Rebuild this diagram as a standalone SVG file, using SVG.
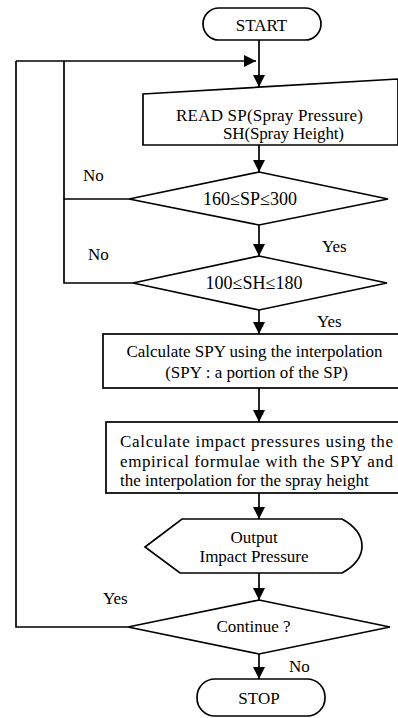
<svg xmlns="http://www.w3.org/2000/svg" width="398" height="718" viewBox="0 0 398 718">
  <style>
    .shape { fill: #ffffff; stroke: #000000; stroke-width: 1.7; }
    .line { fill: none; stroke: #000000; stroke-width: 1.7; }
    text { font-family: "Liberation Serif", "Times New Roman", serif; font-size: 17px; fill: #000000; }
    .c { text-anchor: middle; }
    .cond { font-size: 18px; }
  </style>
  <defs>
    <marker id="arrow" viewBox="0 0 12 12" markerWidth="12" markerHeight="13" refX="12" refY="6" orient="auto" markerUnits="userSpaceOnUse">
      <path d="M0,0 L12,6 L0,12 Z" fill="#000000"/>
    </marker>
  </defs>
  <rect width="398" height="718" fill="#ffffff"/>

  <!-- connectors -->
  <g id="connectors">
    <path class="line" d="M259,40 L259,87" marker-end="url(#arrow)"/>
    <path class="line" d="M16,61 L256,61" marker-end="url(#arrow)"/>
    <path class="line" d="M259,145 L259,172" marker-end="url(#arrow)"/>
    <path class="line" d="M129,199 L64,199 L64,61"/>
    <path class="line" d="M259,225 L259,256" marker-end="url(#arrow)"/>
    <path class="line" d="M133,283 L64,283 L64,199"/>
    <path class="line" d="M259,310 L259,334" marker-end="url(#arrow)"/>
    <path class="line" d="M259,388 L259,422" marker-end="url(#arrow)"/>
    <path class="line" d="M259,493 L259,519" marker-end="url(#arrow)"/>
    <path class="line" d="M259,573 L259,600" marker-end="url(#arrow)"/>
    <path class="line" d="M128,627 L16,627 L16,61"/>
    <path class="line" d="M259,654 L259,679" marker-end="url(#arrow)"/>
    <text x="83" y="181">No</text>
    <text x="88" y="260">No</text>
    <text x="322" y="252">Yes</text>
    <text x="317" y="327">Yes</text>
    <text x="103" y="604">Yes</text>
    <text x="289" y="672">No</text>
  </g>

  <g id="start">
    <rect class="shape" x="203" y="8" width="118" height="32" rx="16" ry="16"/>
    <text class="c" x="261.5" y="31">START</text>
  </g>

  <g id="read-input">
    <path class="shape" d="M143,94 L398,79 L398,145 L143,145 Z"/>
    <text x="176" y="121" textLength="187">READ SP(Spray Pressure)</text>
    <text x="223" y="139" textLength="121">SH(Spray Height)</text>
  </g>

  <g id="check-sp">
    <path class="shape" d="M259,172 L388,199 L259,225 L129,199 Z"/>
    <text class="c cond" x="250" y="205">160≤SP≤300</text>
  </g>

  <g id="check-sh">
    <path class="shape" d="M259,256 L387,283 L259,310 L133,283 Z"/>
    <text class="c cond" x="254" y="289">100≤SH≤180</text>
  </g>

  <g id="calc-spy">
    <rect class="shape" x="103" y="334" width="300" height="54"/>
    <text class="c" x="254.5" y="357">Calculate SPY using the interpolation</text>
    <text class="c" x="256.5" y="378">(SPY : a portion of the SP)</text>
  </g>

  <g id="calc-impact">
    <rect class="shape" x="106" y="422" width="300" height="71"/>
    <text x="120" y="447" textLength="273" lengthAdjust="spacing">Calculate impact pressures using the</text>
    <text x="120" y="467" textLength="273" lengthAdjust="spacing">empirical formulae with the SPY and</text>
    <text x="120" y="486">the interpolation for the spray height</text>
  </g>

  <g id="output">
    <path class="shape" d="M145,547 L182,519 L342,519 Q362,530 362,546 Q362,562 342,573 L180,573 Z"/>
    <text class="c" x="254" y="543">Output</text>
    <text class="c" x="254" y="562">Impact Pressure</text>
  </g>

  <g id="continue">
    <path class="shape" d="M259,600 L390,627 L259,654 L128,627 Z"/>
    <text class="c" x="253.5" y="632">Continue ?</text>
  </g>

  <g id="stop">
    <rect class="shape" x="197" y="679" width="128" height="37" rx="18" ry="18"/>
    <text class="c" x="259" y="704">STOP</text>
  </g>
</svg>
